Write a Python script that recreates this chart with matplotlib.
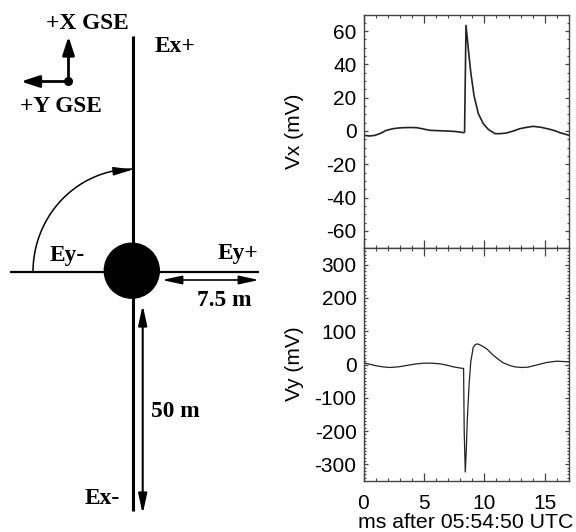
import numpy as np
import matplotlib
matplotlib.use('Agg')
import matplotlib.pyplot as plt
from matplotlib.patches import Circle, FancyArrowPatch

plt.rcParams['axes.unicode_minus'] = False

# valores
t_vx = [0, 0.52, 0.95, 1.35, 1.65, 1.9, 2.45, 2.9, 3.28, 3.9, 4.39, 4.9, 5.49, 6.2, 6.87, 7.6, 8.3, 8.36,
        8.48, 8.67, 8.87, 9.14, 9.5, 9.91, 10.32, 10.88, 11.3, 11.83, 12.4, 12.94, 13.5, 14.04,
        14.7, 15.42, 15.9, 16.25, 17]
vx = [-2.6, -3, -2.6, -1.6, -0.5, 0.4, 1.4, 1.8, 2, 2.1, 2, 1.3, 0.4, 0.2, 0, -0.3, -1, -0.6,
      63.4, 49.4, 35.4, 21.4, 10.4, 4.4, 1, -1.6, -1.6, -1.2, 0, 1.4, 2.2, 2.8,
      2.2, 1, 0, -1, -2.6]
t_vy = [0, 0.5, 1.08, 1.6, 2.18, 2.9, 3.56, 4.2, 4.94, 5.6, 6.32, 6.9, 7.42, 7.9, 8.28, 8.33, 8.42,
        8.5, 8.59, 8.73, 8.87, 9.08, 9.25, 9.44, 9.8, 10.19, 10.73, 11.29, 11.56, 12.1, 12.5, 13.08, 13.6,
        14.04, 14.6, 15.14, 15.97, 17]
vy = [5, 1, -4, -7, -9, -7, -3, 1, 4, 4, 2, -2, -7, -10, -12, -200, -323,
      -260, -163, -63, 7, 52, 60, 62, 56, 47, 28, 12, 5, -3, -7, -9, -8,
      -4, 1, 6, 10, 8]
x_ticks = [0, 5, 10, 15]
vx_ticks = [-60, -40, -20, 0, 20, 40, 60]
vy_ticks = [-300, -200, -100, 0, 100, 200, 300]

W, H = 576, 532
serif = 'Liberation Serif'
sans = 'Liberation Sans'
gris = '#444444'

fig = plt.figure(figsize=(W / 100, H / 100), dpi=100)


def caja(x0, y0, x1, y1):
    # caja en pixeles de la imagen (y hacia abajo)
    return [x0 / W, 1 - y1 / H, (x1 - x0) / W, (y1 - y0) / H]


ax1 = fig.add_axes(caja(363.5, 14.5, 569, 247.5))
ax2 = fig.add_axes(caja(363.5, 248, 569, 481))
ax1.plot(t_vx, vx, color='#222222', lw=1.2)
ax2.plot(t_vy, vy, color='#222222', lw=0.9)
ax1.set_ylim(-70, 70)
ax2.set_ylim(-350, 350)
ax1.set_yticks(vx_ticks)
ax2.set_yticks(vy_ticks)
ax1.set_yticks(np.arange(-70, 71, 5), minor=True)
ax2.set_yticks(np.arange(-350, 351, 10), minor=True)

for ax in (ax1, ax2):
    ax.set_xlim(0, 17)
    ax.set_xticks(x_ticks)
    ax.set_xticks(np.arange(0, 18, 1), minor=True)
    ax.tick_params(axis='x', which='major', direction='in', length=5.5, width=0.9, color=gris,
                   top=True, labelsize=15, pad=9.5)
    ax.tick_params(axis='x', which='minor', direction='in', length=2.5, width=0.8, color=gris,
                   top=True)
    ax.tick_params(axis='y', which='major', direction='in', length=3, width=0.9, color=gris,
                   right=True, labelsize=15, pad=5)
    ax.tick_params(axis='y', which='minor', direction='in', length=1.5, width=0.8, color=gris,
                   right=True)
    for lab in ax.get_xticklabels() + ax.get_yticklabels():
        lab.set_family(sans)
    for s in ax.spines.values():
        s.set_color(gris)
        s.set_linewidth(1.0)
ax1.tick_params(labelbottom=False)

fig.text(295 / W, 1 - 131 / H, 'Vx (mV)', rotation=90, fontsize=15, family=sans, ha='center', va='center')
fig.text(295 / W, 1 - 364 / H, 'Vy (mV)', rotation=90, fontsize=15, family=sans, ha='center', va='center')
fig.text(465.5 / W, 1 - 527.5 / H, 'ms after 05:54:50 UTC', fontsize=15.3, family=sans, ha='center', va='baseline')

# esquema de las antenas, en pixeles de la imagen
dib = fig.add_axes([0, 0, 1, 1], zorder=-1)
dib.set_xlim(0, W)
dib.set_ylim(H, 0)
dib.axis('off')

dib.plot([133.3, 133.3], [36, 511], color='k', lw=2.2, solid_capstyle='butt')
dib.plot([10, 259], [272.3, 272.3], color='k', lw=1.6, solid_capstyle='butt')
dib.add_patch(Circle((131.8, 270.7), 27.5, color='k', zorder=3))
dib.add_patch(Circle((68.5, 81.5), 3.8, color='k', zorder=3))


def flecha(p0, p1, estilo, lw):
    dib.add_patch(FancyArrowPatch(p0, p1, arrowstyle=estilo, mutation_scale=10, color='k',
                                  lw=lw, shrinkA=0, shrinkB=0))


gruesa = '-|>,head_length=1.1,head_width=0.36'
doble = '<|-|>,head_length=1.2,head_width=0.26'
flecha((68.5, 81.5), (68.5, 36.5), gruesa, 2.0)
flecha((68.5, 81.5), (21, 81.5), gruesa, 2.0)
flecha((162, 280), (259, 280), doble, 1.2)
flecha((142.7, 305), (142.7, 514), doble, 1.5)

# arco de Ey- a Ex+
ang = np.radians(np.linspace(180, 270, 60))
dib.plot(133 + 100 * np.cos(ang), 272 + 103 * np.sin(ang), color='k', lw=1.1)
flecha((116, 171), (133, 169.5), '-|>,head_length=1.2,head_width=0.26', 1.0)

negrita = dict(family=serif, weight='bold', fontsize=16.8, color='k', va='baseline', ha='left')
dib.text(46.5, 29, '+X GSE', **negrita)
dib.text(20, 111.7, '+Y GSE', **negrita)
dib.text(155, 52, 'Ex+', **negrita)
dib.text(50, 261.5, 'Ey-', **negrita)
dib.text(218, 259, 'Ey+', **negrita)
dib.text(196.7, 306.3, '7.5 m', **negrita)
dib.text(150.7, 417, '50 m', **negrita)
dib.text(85, 503.7, 'Ex-', **negrita)

fig.savefig('out.png', dpi=100)
